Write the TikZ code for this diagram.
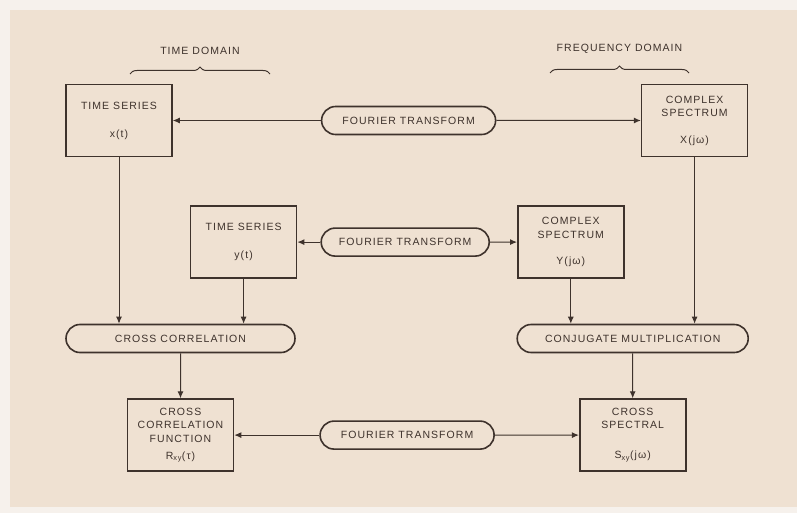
\documentclass[tikz,border=0pt]{standalone}
\usepackage{fontspec}
\usepackage{xcolor}
\newfontfamily\lettering[LetterSpace=10]{Liberation Sans}
\usetikzlibrary{arrows.meta,positioning,shapes.misc,decorations.pathreplacing}
\definecolor{paper}{RGB}{239,225,210}
\definecolor{margin}{RGB}{246,241,236}
\definecolor{ink}{RGB}{62,50,44}
\tikzset{
  blk/.style={draw=ink,rectangle,line width=1.6pt,minimum width=106pt,minimum height=72pt,inner sep=0pt,align=center,text=ink,font=\lettering\fontsize{10.5}{13.5}\selectfont},
  pill/.style={blk,rounded rectangle,minimum height=28pt,minimum width=172pt},
  arr/.style={-{Latex[length=7pt,width=6pt]},draw=ink,line width=1pt},
  brc/.style={decorate,decoration={brace,amplitude=7pt},draw=ink,line width=1pt},
  lbl/.style={text=ink,inner sep=0pt,font=\lettering\fontsize{10.5}{12}\selectfont}
}

\begin{document}
\begin{tikzpicture}[x=1pt,y=-1pt]
  \fill[margin] (0,0) rectangle (797,513);
  \fill[paper] (10,10) rectangle (797,507);

  \node[blk] (xt) at (119,120.5) {TIME SERIES\\[14.5pt]x(t)};
  \node[pill, right=148pt of xt, minimum width=174pt] (ft1) {FOURIER TRANSFORM};
  \node[blk, right=468pt of xt] (Xjw) {COMPLEX\\SPECTRUM\\[13pt]X(jω)};
  \node[blk, below right=48pt and 17pt of xt] (yt) {TIME SERIES\\[14.5pt]y(t)};
  \node[pill, right=23pt of yt, minimum width=168pt] (ft2) {FOURIER TRANSFORM};
  \node[blk, right=27pt of ft2] (Yjw) {COMPLEX\\SPECTRUM\\[13pt]Y(jω)};
  \node[pill, minimum width=229pt] (cc) at (180.5,338.5) {CROSS CORRELATION};
  \node[blk, below=45pt of cc] (rxy) {CROSS\\CORRELATION\\FUNCTION\\[3.5pt]R\textsubscript{xy}(τ)};
  \node[pill, right=85pt of rxy, minimum width=174pt] (ft3) {FOURIER TRANSFORM};
  \node[blk, right=84pt of ft3] (sxy) {CROSS\\SPECTRAL\\[16.5pt]S\textsubscript{xy}(jω)};
  \node[pill, above=45pt of sxy, minimum width=231pt] (cm) {CONJUGATE MULTIPLICATION};

  \draw[brc] (130,74) -- node[lbl, above=19pt] (tdom) {TIME DOMAIN} (270,74);
  \draw[brc] (550,73) -- node[lbl, above=19pt] (fdom) {FREQUENCY DOMAIN} (689,73);

  \draw[arr] (ft1) -- (xt);
  \draw[arr] (ft1) -- (Xjw);
  \draw[arr] (ft2) -- (yt);
  \draw[arr] (ft2) -- (Yjw);
  \draw[arr] (ft3) -- (rxy);
  \draw[arr] (ft3) -- (sxy);
  \draw[arr] (xt) -- (xt |- cc.north);
  \draw[arr] (yt) -- (yt |- cc.north);
  \draw[arr] (cc) -- (rxy);
  \draw[arr] (Yjw) -- (Yjw |- cm.north);
  \draw[arr] (Xjw) -- (Xjw |- cm.north);
  \draw[arr] (cm) -- (sxy);
\end{tikzpicture}
\end{document}
